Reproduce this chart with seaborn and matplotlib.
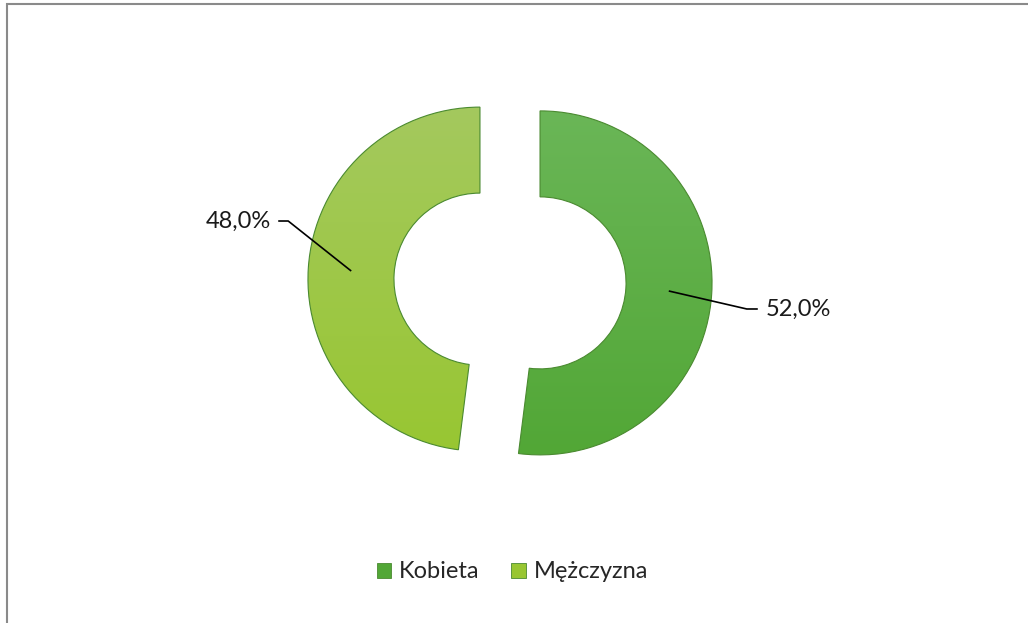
import numpy as np
import matplotlib
matplotlib.use("Agg")
import matplotlib.pyplot as plt
import seaborn as sns
from matplotlib.patches import Rectangle, Patch


LABELS = ["Kobieta", "Mężczyzna"]
SHARES = [52.0, 48.0]
TOP_COLORS = ["#6ab657", "#a4c95e"]
BOTTOM_COLORS = ["#52a736", "#98c632"]
EDGE_COLOR = "#4a8a30"

W, H = 1028, 623
CX, CY = 510, 281   # donut centre, pixels from top-left
R_PX = 172          # outer radius in pixels

# leader line offsets from the wedge anchor, in pixels (elbow, end, text x)
LEADERS = [
    ((78, -18), (89, -18), 97),
    ((-63, 50), (-73, 50), -80),
]


def hex_rgb(c):
    c = c.lstrip("#")
    return np.array([int(c[i:i + 2], 16) / 255 for i in (0, 2, 4)])


def fmt(v):
    return f"{v:.1f}%".replace(".", ",")


sns.set_theme(style="white")
plt.rcParams["font.family"] = ["Lato", "DejaVu Sans"]

fig = plt.figure(figsize=(W / 100, H / 100), dpi=100)
ax = fig.add_axes([0, 0, 1, 1])

wedges, _ = ax.pie(
    SHARES,
    startangle=90,
    counterclock=False,
    explode=[0.175, 0.175],
    radius=1,
    colors=BOTTOM_COLORS,
    wedgeprops=dict(width=0.5, edgecolor=EDGE_COLOR, linewidth=0.8),
)
ax.set_aspect("auto")
ax.axis("off")

# vertical gradient inside each wedge
for w, top, bottom in zip(wedges, TOP_COLORS, BOTTOM_COLORS):
    cx, cy = w.center
    r = w.r
    t = np.linspace(0, 1, 256)[:, None]
    grad = (1 - t) * hex_rgb(top) + t * hex_rgb(bottom)
    img = np.repeat(grad[:, None, :], 2, axis=1)
    im = ax.imshow(img, extent=[cx - r, cx + r, cy - r, cy + r], origin="upper",
                   interpolation="bilinear", aspect="auto", zorder=2)
    im.set_clip_path(w)
    w.set_facecolor("none")
    w.set_zorder(3)

ax.set_xlim(-CX / R_PX, (W - CX) / R_PX)
ax.set_ylim(-(H - CY) / R_PX, CY / R_PX)

# labels with leader lines
for w, v, (elbow, end, tx) in zip(wedges, SHARES, LEADERS):
    cx, cy = w.center
    mid = np.deg2rad((w.theta1 + w.theta2) / 2)
    rm = w.r - w.width / 2
    px, py = cx + rm * np.cos(mid), cy + rm * np.sin(mid)
    ex, ey = px + elbow[0] / R_PX, py + elbow[1] / R_PX
    fx, fy = px + end[0] / R_PX, py + end[1] / R_PX
    ax.plot([px, ex, fx], [py, ey, fy], color="black", lw=1.2, zorder=4,
            solid_capstyle="butt")
    ha = "left" if tx > 0 else "right"
    ax.text(px + tx / R_PX, fy, fmt(v), ha=ha, va="center", fontsize=17,
            color="#1a1a1a", zorder=4)

handles = [Patch(facecolor=c, edgecolor=EDGE_COLOR, linewidth=0.6) for c in BOTTOM_COLORS]
fig.legend(handles, LABELS, loc="center", bbox_to_anchor=(0.4985, 1 - 572 / H),
           ncol=2, frameon=False, fontsize=17, handlelength=0.6, handleheight=0.6,
           handletextpad=0.35, columnspacing=1.35)

fig.patches.append(Rectangle((7 / W, -0.05), 1.2, 1.05 - 4 / H, transform=fig.transFigure,
                             fill=False, edgecolor="#8a8a8a", linewidth=1.5))

fig.savefig("out.png", dpi=100)
